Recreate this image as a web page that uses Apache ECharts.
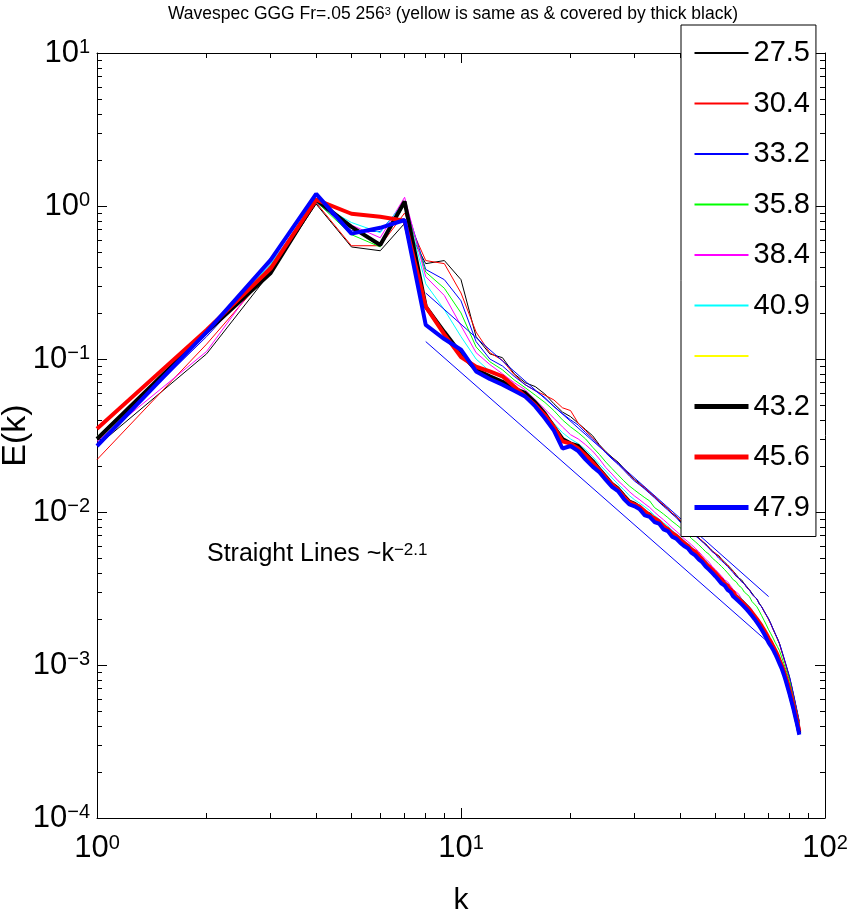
<!DOCTYPE html>
<html><head><meta charset="utf-8">
<script src="https://cdn.jsdelivr.net/npm/echarts@6/dist/echarts.min.js"></script>
<style>html,body{margin:0;padding:0;background:#fff}#c{width:848px;height:911px}</style>
</head><body><div id="c"></div>
<script>
const FONT = '"Liberation Sans", Arial, Helvetica, sans-serif';

// wavenumbers k = 1..85
const k = Array.from({length: 85}, (_, i) => i + 1);

const s275 = [0.027,0.108,0.37,1.03,0.54,0.51,0.77,0.42,0.44,0.33,
  0.140,0.108,0.102,0.080,0.070,0.066,0.059,0.051,0.045,0.042,
  0.038,0.0345,0.0315,0.0275,0.0248,0.0228,0.0212,0.0193,0.0176,0.0163,
  0.0154,0.0142,0.0135,0.0125,0.0119,0.0110,0.0106,0.0098,0.0094,0.0087,
  0.0084,0.0079,0.0075,0.0071,0.0068,0.0064,0.0062,0.0058,0.0056,0.0053,
  0.0052,0.0049,0.0047,0.0045,0.0043,0.0041,0.0039,0.0037,0.0036,0.0034,
  0.00325,0.0031,0.00295,0.0028,0.0027,0.00253,0.0024,0.00225,0.00212,0.0020,
  0.00186,0.00172,0.0016,0.00149,0.00138,0.00124,0.00112,0.00101,0.00091,0.00082,
  0.00072,0.00063,0.00055,0.00048,0.00042];
const s304 = [0.022,0.125,0.38,1.05,0.55,0.55,0.90,0.44,0.42,0.27,
  0.150,0.110,0.098,0.079,0.068,0.062,0.058,0.054,0.048,0.046,
  0.038,0.034,0.0305,0.0272,0.0245,0.0226,0.0208,0.0190,0.0175,0.0161,
  0.0151,0.0145,0.0133,0.0127,0.0117,0.0112,0.0104,0.0099,0.0093,0.0089,
  0.0083,0.0080,0.0074,0.0072,0.0067,0.0065,0.0061,0.0059,0.0055,0.0054,
  0.0051,0.0049,0.0046,0.0045,0.0042,0.0041,0.0038,0.0037,0.0035,0.0034,
  0.0032,0.0031,0.0029,0.0028,0.0027,0.0025,0.0024,0.00224,0.00211,0.00198,
  0.00185,0.00171,0.00159,0.00148,0.00137,0.00123,0.00111,0.0010,0.0009,0.00081,
  0.00072,0.00063,0.00055,0.00048,0.00042];
const s332 = [0.028,0.14,0.40,1.06,0.69,0.68,1.06,0.385,0.33,0.24,
  0.130,0.100,0.090,0.077,0.068,0.062,0.056,0.049,0.044,0.040,
  0.037,0.033,0.030,0.027,0.0243,0.0222,0.0205,0.0188,0.0172,0.0159,
  0.0150,0.0141,0.0132,0.0124,0.0116,0.0109,0.0103,0.0097,0.0092,0.0086,
  0.0082,0.0078,0.0074,0.0070,0.0067,0.0064,0.0061,0.0058,0.0055,0.0053,
  0.0050,0.0048,0.0046,0.0044,0.0042,0.0040,0.0038,0.0037,0.0035,0.0034,
  0.0032,0.0031,0.0029,0.0028,0.0027,0.0025,0.0024,0.00225,0.00212,0.0020,
  0.00186,0.00172,0.0016,0.00149,0.00138,0.00125,0.00113,0.00102,0.00092,0.00083,
  0.00073,0.00064,0.00056,0.00049,0.00043];
const s358 = [0.031,0.148,0.41,1.07,0.65,0.54,1.03,0.37,0.29,0.20,
  0.120,0.096,0.085,0.073,0.065,0.058,0.052,0.046,0.040,0.036,
  0.033,0.030,0.0265,0.0238,0.0212,0.0192,0.0175,0.0160,0.0148,0.0139,
  0.0131,0.0124,0.0118,0.0107,0.0102,0.0097,0.0092,0.0087,0.0083,0.0079,
  0.0075,0.0071,0.0067,0.0064,0.0061,0.0058,0.0055,0.0053,0.0050,0.0048,
  0.0046,0.0044,0.0042,0.0040,0.0038,0.0036,0.0035,0.0033,0.0032,0.0030,
  0.0029,0.0028,0.0026,0.0025,0.0024,0.00225,0.0021,0.00196,0.00183,0.0017,
  0.0016,0.0015,0.0014,0.00132,0.00124,0.00113,0.00103,0.00094,0.00086,0.00078,
  0.00068,0.0006,0.00053,0.00047,0.00041];
const s384 = [0.029,0.112,0.42,1.08,0.75,0.62,1.14,0.345,0.26,0.165,
  0.110,0.092,0.080,0.070,0.063,0.054,0.047,0.041,0.036,0.032,
  0.030,0.0275,0.025,0.0222,0.0195,0.0177,0.016,0.0148,0.0136,0.0127,
  0.0120,0.0113,0.0107,0.0100,0.0094,0.0089,0.0084,0.0079,0.0075,0.0071,
  0.0067,0.0064,0.0061,0.0058,0.0055,0.0052,0.0049,0.0047,0.0044,0.0042,
  0.0040,0.0038,0.0036,0.0035,0.0033,0.0031,0.0030,0.0029,0.0027,0.0026,
  0.0025,0.0024,0.0023,0.0021,0.0020,0.0019,0.0018,0.0017,0.0016,0.0015,
  0.00142,0.00134,0.00126,0.00118,0.0011,0.00101,0.00093,0.00085,0.00077,0.0007,
  0.00062,0.00055,0.00049,0.00043,0.00037];
const s409 = [0.030,0.146,0.42,1.06,0.78,0.67,1.07,0.31,0.21,0.14,
  0.100,0.083,0.075,0.066,0.060,0.052,0.044,0.038,0.033,0.030,
  0.028,0.0255,0.023,0.0205,0.0185,0.0167,0.0152,0.014,0.0128,0.012,
  0.0114,0.0108,0.0102,0.0095,0.0090,0.0085,0.0081,0.0076,0.0072,0.0069,
  0.0065,0.0062,0.0059,0.0056,0.0053,0.0050,0.0048,0.0045,0.0043,0.0041,
  0.0039,0.0037,0.0035,0.0034,0.0032,0.0030,0.0029,0.0028,0.0027,0.0026,
  0.0025,0.0024,0.0022,0.0021,0.0020,0.0019,0.0018,0.0017,0.0016,0.0015,
  0.0014,0.00132,0.00124,0.00116,0.00108,0.001,0.00092,0.00084,0.00076,0.00069,
  0.00061,0.00054,0.00048,0.00042,0.00036];
const s432 = [0.030,0.150,0.365,1.10,0.73,0.556,1.07,0.22,0.15,0.108,
  0.085,0.077,0.071,0.064,0.060,0.052,0.044,0.036,0.030,0.028,
  0.027,0.024,0.0215,0.019,0.0170,0.0152,0.0142,0.0128,0.0117,0.0113,
  0.0107,0.0099,0.0096,0.0089,0.0086,0.0080,0.0077,0.0072,0.0069,0.0066,
  0.0062,0.0060,0.0056,0.0054,0.0051,0.0048,0.0046,0.0043,0.0041,0.0039,
  0.0037,0.0036,0.0034,0.0032,0.0031,0.0029,0.0028,0.0027,0.0026,0.0025,
  0.0024,0.0023,0.00215,0.00205,0.00195,0.00185,0.00175,0.00165,0.00155,0.00145,
  0.00138,0.0013,0.00122,0.00114,0.00106,0.00098,0.0009,0.00082,0.00074,0.00066,
  0.00059,0.00053,0.00047,0.00041,0.00036];
// yellow run is identical to the thick black one (see title)
const sYellow = s432;
const s456 = [0.035,0.155,0.39,1.10,0.89,0.85,0.80,0.22,0.145,0.103,
  0.089,0.083,0.077,0.066,0.057,0.050,0.043,0.036,0.029,0.028,
  0.026,0.0235,0.021,0.0188,0.0168,0.0151,0.0140,0.0126,0.0116,0.0112,
  0.0108,0.0101,0.0095,0.0091,0.0087,0.0081,0.0077,0.0073,0.0070,0.0066,
  0.0063,0.0060,0.0057,0.0055,0.0052,0.0049,0.0046,0.0044,0.0042,0.0040,
  0.0038,0.0036,0.0034,0.0033,0.0031,0.0030,0.0028,0.0027,0.0026,0.0025,
  0.0024,0.0023,0.0022,0.0021,0.0020,0.0019,0.0018,0.0017,0.0016,0.0015,
  0.00142,0.00133,0.00125,0.00117,0.00108,0.001,0.00092,0.00084,0.00076,0.00068,
  0.00061,0.00054,0.00048,0.00042,0.00037];
const s479 = [0.027,0.150,0.445,1.20,0.66,0.72,0.81,0.167,0.135,0.115,
  0.083,0.074,0.068,0.062,0.057,0.049,0.041,0.034,0.026,0.027,
  0.025,0.022,0.0198,0.0182,0.0162,0.0146,0.0137,0.0122,0.0112,0.0109,
  0.0104,0.0095,0.0093,0.0086,0.0084,0.0077,0.0075,0.0069,0.0067,0.0063,
  0.0060,0.0058,0.0054,0.0052,0.0049,0.0047,0.0044,0.0042,0.0040,0.0038,
  0.0036,0.0034,0.0033,0.0031,0.0030,0.0028,0.0027,0.0026,0.0025,0.0024,
  0.0023,0.0022,0.0021,0.0020,0.0019,0.0018,0.0017,0.0016,0.0015,0.0014,
  0.00133,0.00126,0.00118,0.0011,0.00102,0.00095,0.00087,0.00079,0.00071,0.00064,
  0.00057,0.00051,0.00045,0.0004,0.00035];

// reference straight lines ~k^-2.1
const lineK = [8, 70];
const upperLine = [0.27, 0.0028];
const lowerLine = [0.13, 0.0014];

// minor tick positions
const xMinor = [2,3,4,5,6,7,8,9,20,30,40,50,60,70,80,90];
const yMinor = [2e-4,3e-4,4e-4,5e-4,6e-4,7e-4,8e-4,9e-4,2e-3,3e-3,4e-3,5e-3,6e-3,7e-3,8e-3,9e-3,
  0.02,0.03,0.04,0.05,0.06,0.07,0.08,0.09,0.2,0.3,0.4,0.5,0.6,0.7,0.8,0.9,2,3,4,5,6,7,8,9];

const runs = [
  {name:'27.5', data:s275, color:'#000000', width:1},
  {name:'30.4', data:s304, color:'#ff0000', width:1},
  {name:'33.2', data:s332, color:'#0000ff', width:1},
  {name:'35.8', data:s358, color:'#00ff00', width:1},
  {name:'38.4', data:s384, color:'#ff00ff', width:1},
  {name:'40.9', data:s409, color:'#00ffff', width:1},
  {name:'yellow', data:sYellow, color:'#ffff00', width:1},
  {name:'43.2', data:s432, color:'#000000', width:4},
  {name:'45.6', data:s456, color:'#ff0000', width:4},
  {name:'47.9', data:s479, color:'#0000ff', width:4}
];

const richLab = {
  b: {fontSize: 31, fontFamily: FONT, color: '#000', lineHeight: 31, padding: [6,0,0,0], verticalAlign: 'bottom'},
  s: {fontSize: 20, fontFamily: FONT, color: '#000', lineHeight: 20, verticalAlign: 'top'}
};
function expLabel(v) {
  const e = Math.round(Math.log10(v));
  return '{b|10}{s|' + String(e).replace('-', '\u2212') + '}';
}
const axLine = {show: true, onZero: false, lineStyle: {color: '#000', width: 1}};
const majTick = {show: true, inside: true, length: 10, lineStyle: {color: '#000', width: 1}};
const minTick = (vals) => ({show: true, inside: true, length: 5, customValues: vals, lineStyle: {color: '#000', width: 1}});
const noLine = {show: false, onZero: false};

const series = runs.map(r => ({
  type: 'line', name: r.name, xAxisIndex: 0, yAxisIndex: 0,
  data: k.map((kk, i) => [kk, r.data[i]]),
  symbol: 'none', showSymbol: false,
  lineStyle: {color: r.color, width: r.width}, itemStyle: {color: r.color},
  emphasis: {disabled: true}, animation: false
}));
[upperLine, lowerLine].forEach((ln, j) => series.push({
  type: 'line', name: 'fit' + j, xAxisIndex: 0, yAxisIndex: 0,
  data: lineK.map((kk, i) => [kk, ln[i]]), symbol: 'none',
  lineStyle: {color: '#0000ff', width: 1}, itemStyle: {color: '#0000ff'},
  emphasis: {disabled: true}, animation: false
}));

const option = {
  animation: false,
  backgroundColor: '#fff',
  grid: {left: 97, right: 23, top: 53, bottom: 93, containLabel: false, outerBoundsMode: 'none'},
  xAxis: [
    {type: 'log', logBase: 10, min: 1, max: 100, position: 'bottom', axisLine: axLine, axisTick: majTick,
     axisLabel: {formatter: expLabel, rich: richLab, margin: 15}, splitLine: {show: false},
     name: 'k', nameLocation: 'middle', nameGap: 68, nameMoveOverlap: false,
     nameTextStyle: {fontSize: 30, fontFamily: FONT, color: '#000'}},
    {type: 'log', logBase: 10, min: 1, max: 100, position: 'top', axisLine: axLine, axisTick: majTick,
     axisLabel: {show: false}, splitLine: {show: false}},
    {type: 'value', min: 0, max: 2, position: 'bottom', axisLine: noLine,
     axisTick: minTick(xMinor.map(v => Math.log10(v))), axisLabel: {show: false}, splitLine: {show: false}},
    {type: 'value', min: 0, max: 2, position: 'top', axisLine: noLine,
     axisTick: minTick(xMinor.map(v => Math.log10(v))), axisLabel: {show: false}, splitLine: {show: false}}
  ],
  yAxis: [
    {type: 'log', logBase: 10, min: 1e-4, max: 10, position: 'left', axisLine: axLine, axisTick: majTick,
     axisLabel: {formatter: expLabel, rich: richLab, margin: 7}, splitLine: {show: false},
     name: 'E(k)', nameLocation: 'middle', nameGap: 64, nameRotate: 90, nameMoveOverlap: false,
     nameTextStyle: {fontSize: 34, fontFamily: FONT, color: '#000'}},
    {type: 'log', logBase: 10, min: 1e-4, max: 10, position: 'right', axisLine: axLine, axisTick: majTick,
     axisLabel: {show: false}, splitLine: {show: false}},
    {type: 'value', min: -4, max: 1, position: 'left', axisLine: noLine,
     axisTick: minTick(yMinor.map(v => Math.log10(v))), axisLabel: {show: false}, splitLine: {show: false}},
    {type: 'value', min: -4, max: 1, position: 'right', axisLine: noLine,
     axisTick: minTick(yMinor.map(v => Math.log10(v))), axisLabel: {show: false}, splitLine: {show: false}}
  ],
  legend: {
    orient: 'vertical', left: 681, top: 25, padding: [8, 6, 9, 11], itemGap: 10.5,
    itemWidth: 54, itemHeight: 14, backgroundColor: '#fff', borderColor: '#000', borderWidth: 1,
    selectedMode: false,
    textStyle: {fontSize: 29, fontFamily: FONT, color: '#000', lineHeight: 40},
    formatter: n => n === 'yellow' ? ' ' : n,
    data: runs.map(r => ({
      name: r.name,
      lineStyle: {color: r.color, width: r.width > 1 ? 5 : 2, opacity: 1},
      itemStyle: {color: r.color, opacity: 0, borderWidth: 0}
    }))
  },
  graphic: [
    {type: 'text', z: 100, style: {
      x: 453, y: 6, align: 'center', verticalAlign: 'top',
      text: '{a|Wavespec GGG Fr=.05 256}{s|3}{a| (yellow is same as & covered by thick black)}',
      rich: {a: {fontSize: 17.5, fontFamily: FONT, fill: '#000', lineHeight: 17, padding: [5,0,0,0], verticalAlign: 'bottom'},
             s: {fontSize: 11, fontFamily: FONT, fill: '#000', lineHeight: 11, verticalAlign: 'top'}}
    }},
    {type: 'text', z: 100, style: {
      x: 207, y: 554, align: 'left', verticalAlign: 'middle',
      text: '{a|Straight Lines ~k}{s|\u22122.1}',
      rich: {a: {fontSize: 25, fontFamily: FONT, fill: '#000', lineHeight: 25, padding: [8,0,0,0], verticalAlign: 'bottom'},
             s: {fontSize: 17, fontFamily: FONT, fill: '#000', lineHeight: 17, verticalAlign: 'top'}}
    }}
  ],
  series: series
};
const chart = echarts.init(document.getElementById('c'));
chart.setOption(option);
</script></body></html>
